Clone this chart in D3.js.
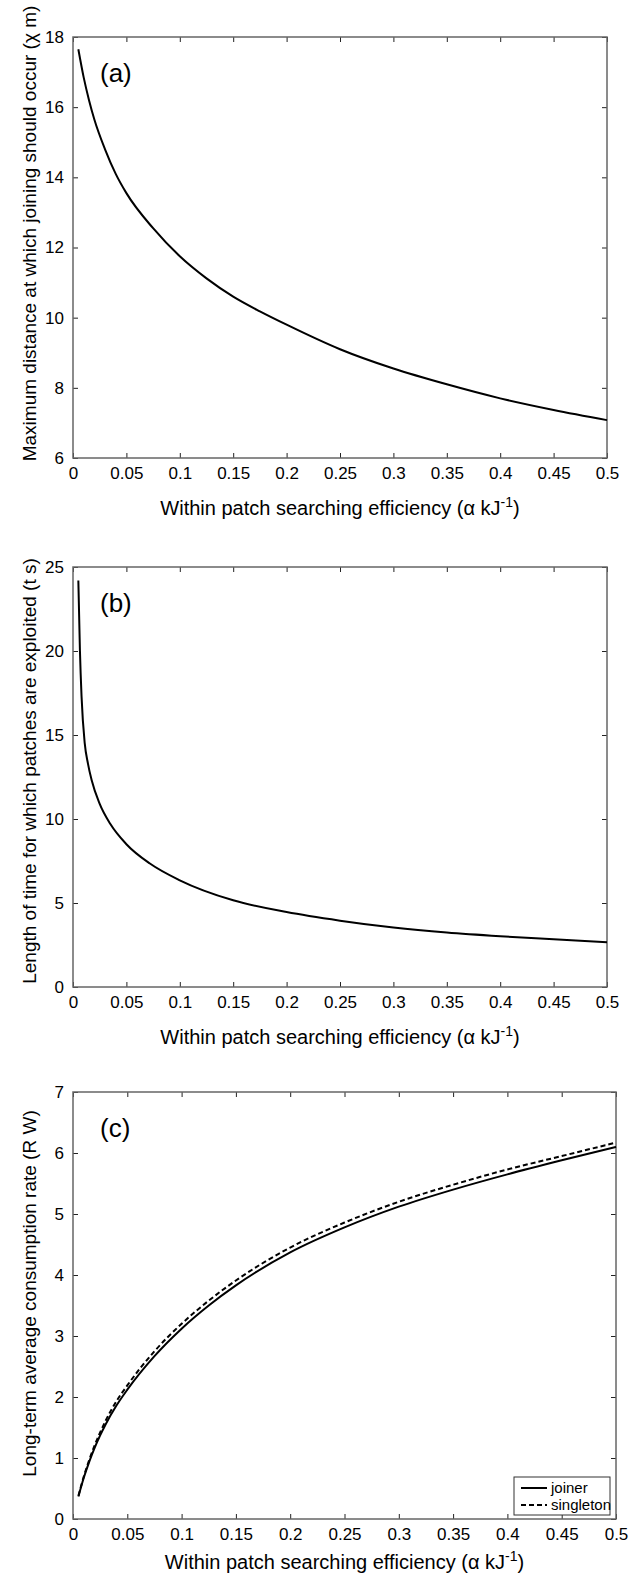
<!DOCTYPE html>
<meta charset="utf-8">
<style>
  body { margin: 0; background: #fff; }
  svg { display: block; }
  text { font-family: "Liberation Sans", Arial, sans-serif; fill: #000; }
</style>
<body>
<script src="https://d3js.org/d3.v7.min.js"></script>
<script>
// ---- data ----
var xTicks = [0, 0.05, 0.1, 0.15, 0.2, 0.25, 0.3, 0.35, 0.4, 0.45, 0.5];

// (a) maximum joining distance
var alphaA = [0.005, 0.01, 0.015, 0.02, 0.03, 0.04, 0.05, 0.075, 0.1, 0.125, 0.15, 0.175, 0.2, 0.25, 0.3, 0.35, 0.4, 0.45, 0.5];
var distA  = [17.65, 16.85, 16.2, 15.65, 14.8, 14.1, 13.55, 12.55, 11.75, 11.12, 10.6, 10.18, 9.8, 9.1, 8.55, 8.1, 7.7, 7.37, 7.08];
var yTicksA = [6, 8, 10, 12, 14, 16, 18];

// (b) patch exploitation time
var alphaB = [0.005, 0.0065, 0.008, 0.011, 0.014, 0.0175, 0.025, 0.035, 0.05, 0.072, 0.1, 0.15, 0.2, 0.25, 0.3, 0.35, 0.4, 0.45, 0.5];
var timeB  = [24.2, 20.0, 17.3, 14.5, 13.3, 12.3, 10.9, 9.7, 8.5, 7.35, 6.35, 5.16, 4.46, 3.95, 3.54, 3.24, 3.02, 2.84, 2.66];
var yTicksB = [0, 5, 10, 15, 20, 25];

// (c) long-term consumption rate
var alphaC    = [0.005, 0.01, 0.015, 0.02, 0.025, 0.03, 0.04, 0.05, 0.075, 0.1, 0.125, 0.15, 0.2, 0.25, 0.3, 0.35, 0.4, 0.45, 0.5];
var joiner    = [0.37, 0.68, 0.94, 1.17, 1.37, 1.55, 1.86, 2.12, 2.67, 3.12, 3.5, 3.83, 4.37, 4.78, 5.12, 5.4, 5.65, 5.88, 6.1];
var singleton = [0.38, 0.7, 0.97, 1.21, 1.42, 1.61, 1.93, 2.19, 2.75, 3.2, 3.58, 3.91, 4.45, 4.86, 5.2, 5.48, 5.73, 5.95, 6.17];
var yTicksC = [0, 1, 2, 3, 4, 5, 6, 7];

var svg = d3.select("body").append("svg")
  .attr("width", 636)
  .attr("height", 1574);

function fmt(d){ return d3.format("~g")(d); }

function panel(p){
  var x = d3.scaleLinear().domain([0, 0.5]).range([p.left, p.right]);
  var y = d3.scaleLinear().domain(p.yDomain).range([p.bottom, p.top]);
  var g = svg.append("g");

  // ticks, inward on all four sides
  g.append("g").attr("transform", "translate(0," + p.bottom + ")")
    .call(d3.axisBottom(x).tickValues(xTicks).tickSize(-5).tickPadding(9).tickFormat(fmt));
  g.append("g").attr("transform", "translate(0," + p.top + ")")
    .call(d3.axisTop(x).tickValues(xTicks).tickSize(-5).tickFormat(""));
  g.append("g").attr("transform", "translate(" + p.left + ",0)")
    .call(d3.axisLeft(y).tickValues(p.yTicks).tickSize(-5).tickPadding(9).tickFormat(fmt));
  g.append("g").attr("transform", "translate(" + p.right + ",0)")
    .call(d3.axisRight(y).tickValues(p.yTicks).tickSize(-5).tickFormat(""));

  g.selectAll(".domain").remove();
  g.selectAll(".tick line").attr("stroke", "#222");
  g.selectAll(".tick text").style("font-size", "17px").attr("fill", "#000");

  // box
  g.append("rect")
    .attr("x", p.left).attr("y", p.top)
    .attr("width", p.right - p.left).attr("height", p.bottom - p.top)
    .attr("fill", "none").attr("stroke", "#666").attr("stroke-width", 1.5);

  var line = d3.line()
    .x(function(d){ return x(d[0]); })
    .y(function(d){ return y(d[1]); })
    .curve(d3.curveMonotoneX);

  p.series.forEach(function(s){
    g.append("path")
      .datum(d3.zip(s.xs, s.ys))
      .attr("d", line)
      .attr("fill", "none")
      .attr("stroke", "#000")
      .attr("stroke-width", 2)
      .attr("stroke-dasharray", s.dash || null);
  });

  // panel letter
  g.append("text")
    .attr("x", p.left + 27).attr("y", p.top + 45)
    .style("font-size", "26px")
    .text(p.letter);

  // x label
  var xl = g.append("text")
    .attr("x", (p.left + p.right) / 2).attr("y", p.bottom + p.xLabelDy)
    .attr("text-anchor", "middle")
    .style("font-size", "20px");
  xl.append("tspan").text("Within patch searching efficiency (\u03b1 kJ");
  xl.append("tspan").attr("dy", -8).style("font-size", "14px").text("-1");
  xl.append("tspan").attr("dy", 8).text(")");

  // y label
  g.append("text")
    .attr("transform", "translate(36," + ((p.top + p.bottom) / 2 - p.yLabelShift) + ") rotate(-90)")
    .attr("text-anchor", "middle")
    .style("font-size", "19px")
    .text(p.yLabel);

  return {x: x, y: y, g: g};
}

panel({
  left: 73, right: 607, top: 37, bottom: 458,
  yDomain: [6, 18], yTicks: yTicksA, letter: "(a)",
  xLabelDy: 57, yLabelShift: 14,
  yLabel: "Maximum distance at which joining should occur (\u03c7 m)",
  series: [{xs: alphaA, ys: distA}]
});

panel({
  left: 73, right: 607, top: 567, bottom: 987,
  yDomain: [0, 25], yTicks: yTicksB, letter: "(b)",
  xLabelDy: 57, yLabelShift: 6,
  yLabel: "Length of time for which patches are exploited (t s)",
  series: [{xs: alphaB, ys: timeB}]
});

var pc = panel({
  left: 73, right: 616, top: 1092, bottom: 1519,
  yDomain: [0, 7], yTicks: yTicksC, letter: "(c)",
  xLabelDy: 50, yLabelShift: 12,
  yLabel: "Long-term average consumption rate (R W)",
  series: [{xs: alphaC, ys: joiner}, {xs: alphaC, ys: singleton, dash: "5,3"}]
});

// legend
var legendItems = [{name: "joiner", dash: null}, {name: "singleton", dash: "5,3"}];
var lg = pc.g.append("g").attr("transform", "translate(514,1477)");
lg.append("rect").attr("width", 96).attr("height", 38)
  .attr("fill", "#fff").attr("stroke", "#333").attr("stroke-width", 1);
legendItems.forEach(function(d, i){
  lg.append("line")
    .attr("x1", 7).attr("x2", 33)
    .attr("y1", 11 + i * 17).attr("y2", 11 + i * 17)
    .attr("stroke", "#000").attr("stroke-width", 2)
    .attr("stroke-dasharray", d.dash);
  lg.append("text")
    .attr("x", 37).attr("y", 16 + i * 17)
    .style("font-size", "15px")
    .text(d.name);
});
</script>
</body>
